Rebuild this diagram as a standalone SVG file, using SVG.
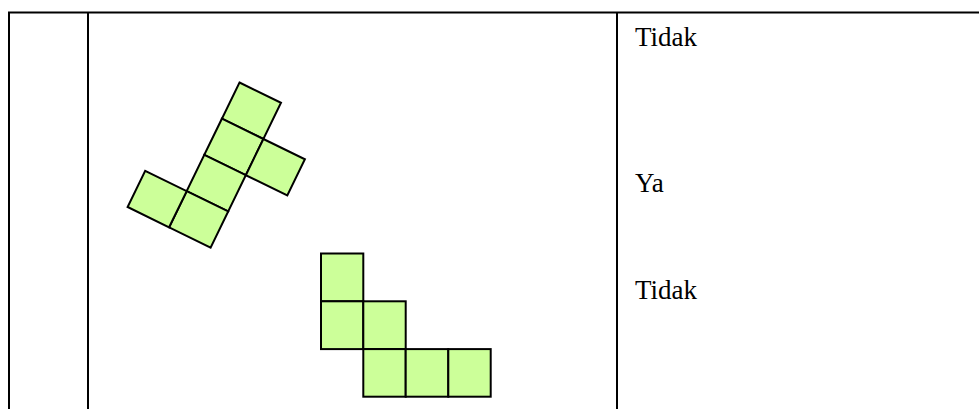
<svg xmlns="http://www.w3.org/2000/svg" width="979" height="409" viewBox="0 0 979 409">
<style>
.ln{stroke:#000;stroke-width:2;fill:none}
.sq{fill:#CCFF99;stroke:#000;stroke-width:2;stroke-linejoin:miter}
.t{font-family:"Liberation Serif","Times New Roman",serif;font-size:27px;fill:#000}
</style>
<rect width="979" height="409" fill="#fff"/>
<g id="table">
<line class="ln" x1="8" y1="12.5" x2="979" y2="12.5"/>
<line class="ln" x1="9" y1="12" x2="9" y2="409"/>
<line class="ln" x1="88" y1="12" x2="88" y2="409"/>
<line class="ln" x1="617" y1="12" x2="617" y2="409"/>
</g>
<g id="net-tilted">
<polygon class="sq" points="239.5,82.5 281,102.8 263.4,139 221.9,118.7"/>
<polygon class="sq" points="221.9,118.7 263.4,139 245.8,175.2 204.3,154.9"/>
<polygon class="sq" points="204.3,154.9 245.8,175.2 228.2,211.4 186.7,191.1"/>
<polygon class="sq" points="186.7,191.1 228.2,211.4 210.6,247.6 169.1,227.3"/>
<polygon class="sq" points="263.4,139 304.9,159.3 287.3,195.5 245.8,175.2"/>
<polygon class="sq" points="145.2,170.8 186.7,191.1 169.1,227.3 127.6,207"/>
</g>
<g id="net-upright">
<rect class="sq" x="321" y="253.5" width="42.3" height="47.8"/>
<rect class="sq" x="321" y="301.3" width="42.3" height="47.8"/>
<rect class="sq" x="363.3" y="301.3" width="42.4" height="47.8"/>
<rect class="sq" x="363.3" y="349.1" width="42.4" height="47.6"/>
<rect class="sq" x="405.7" y="349.1" width="42.6" height="47.6"/>
<rect class="sq" x="448.3" y="349.1" width="42.4" height="47.6"/>
</g>
<g id="answers">
<text class="t" x="635" y="46">Tidak</text>
<text class="t" x="635" y="192">Ya</text>
<text class="t" x="635" y="299">Tidak</text>
</g>
</svg>
